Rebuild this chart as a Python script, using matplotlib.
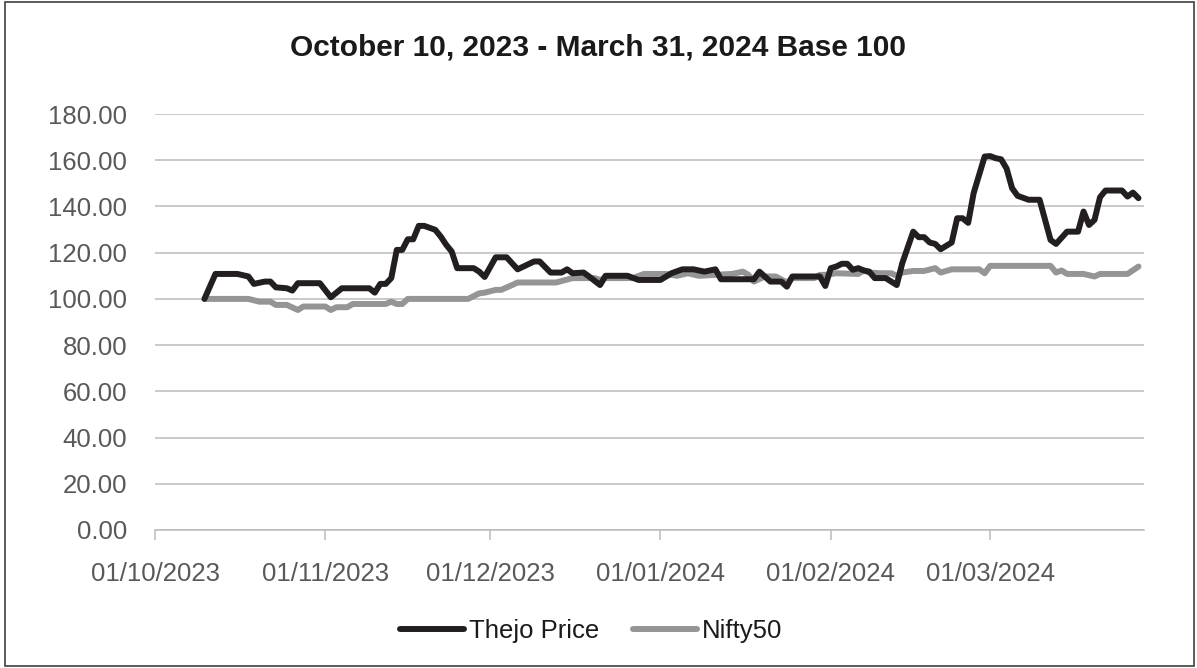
# Thejo Price vs Nifty50, Base 100 (10.10.2023 - 31.03.2024)

import pandas as pd
import matplotlib
matplotlib.use('Agg')
import matplotlib.pyplot as plt
import matplotlib.dates as mdates
from matplotlib.patches import Rectangle

plt.rcParams['font.family'] = ['Liberation Sans', 'DejaVu Sans']

# Werte (Eckpunkte der Linien)
thejo_dates = [
    '2023-10-10', '2023-10-12', '2023-10-16', '2023-10-18', '2023-10-19', '2023-10-21',
    '2023-10-22', '2023-10-23', '2023-10-25', '2023-10-26', '2023-10-27', '2023-10-31',
    '2023-11-02', '2023-11-04', '2023-11-09', '2023-11-10', '2023-11-11', '2023-11-12',
    '2023-11-13', '2023-11-14', '2023-11-15', '2023-11-16', '2023-11-17', '2023-11-18',
    '2023-11-19', '2023-11-21', '2023-11-22', '2023-11-23', '2023-11-24', '2023-11-25',
    '2023-11-28', '2023-11-29', '2023-11-30', '2023-12-02', '2023-12-04', '2023-12-06',
    '2023-12-09', '2023-12-10', '2023-12-12', '2023-12-14', '2023-12-15', '2023-12-16',
    '2023-12-18', '2023-12-19', '2023-12-21', '2023-12-22', '2023-12-26', '2023-12-28',
    '2024-01-01', '2024-01-03', '2024-01-05', '2024-01-07', '2024-01-09', '2024-01-11',
    '2024-01-12', '2024-01-18', '2024-01-19', '2024-01-21', '2024-01-23', '2024-01-24',
    '2024-01-25', '2024-01-30', '2024-01-31', '2024-02-01', '2024-02-02', '2024-02-03',
    '2024-02-04', '2024-02-05', '2024-02-06', '2024-02-07', '2024-02-08', '2024-02-09',
    '2024-02-11', '2024-02-13', '2024-02-14', '2024-02-16', '2024-02-17', '2024-02-18',
    '2024-02-19', '2024-02-20', '2024-02-21', '2024-02-23', '2024-02-24', '2024-02-25',
    '2024-02-26', '2024-02-27', '2024-02-28', '2024-02-29', '2024-03-01', '2024-03-02',
    '2024-03-03', '2024-03-04', '2024-03-05', '2024-03-06', '2024-03-08', '2024-03-10',
    '2024-03-11', '2024-03-12', '2024-03-13', '2024-03-15', '2024-03-17', '2024-03-18',
    '2024-03-19', '2024-03-20', '2024-03-21', '2024-03-22', '2024-03-25', '2024-03-26',
    '2024-03-27', '2024-03-28',
]
thejo_values = [
    100.0, 110.8, 110.8, 109.7, 106.5, 107.5,
    107.5, 105.0, 104.6, 103.6, 106.8, 106.8,
    100.7, 104.6, 104.6, 102.7, 106.5, 106.5,
    109.0, 121.2, 121.2, 125.8, 125.8, 131.6,
    131.6, 129.9, 127.0, 123.4, 120.5, 113.3,
    113.3, 111.8, 109.5, 118.0, 118.0, 112.8,
    116.2, 116.2, 111.4, 111.4, 112.8, 111.1,
    111.4, 109.7, 106.0, 110.0, 110.0, 108.2,
    108.2, 111.1, 112.8, 112.8, 111.8, 112.8,
    108.5, 108.5, 111.8, 107.5, 107.5, 105.3,
    109.7, 109.7, 105.6, 113.3, 114.0, 115.2,
    115.2, 112.6, 113.3, 112.3, 111.8, 109.0,
    109.0, 106.0, 115.4, 129.1, 126.7, 126.7,
    124.4, 123.8, 121.5, 124.4, 134.9, 134.9,
    132.9, 145.8, 153.7, 161.6, 161.8, 160.9,
    160.4, 156.4, 147.9, 144.6, 142.9, 142.9,
    134.2, 125.5, 123.8, 129.1, 129.1, 137.8,
    132.0, 134.2, 144.0, 146.9, 146.9, 144.3,
    146.0, 143.6,
]

nifty_dates = [
    '2023-10-10', '2023-10-18', '2023-10-20', '2023-10-22', '2023-10-23', '2023-10-25',
    '2023-10-27', '2023-10-28', '2023-11-01', '2023-11-02', '2023-11-03', '2023-11-05',
    '2023-11-06', '2023-11-12', '2023-11-13', '2023-11-14', '2023-11-15', '2023-11-16',
    '2023-11-27', '2023-11-29', '2023-11-30', '2023-12-02', '2023-12-03', '2023-12-05',
    '2023-12-06', '2023-12-13', '2023-12-16', '2023-12-20', '2023-12-21', '2023-12-22',
    '2023-12-27', '2023-12-29', '2024-01-02', '2024-01-04', '2024-01-06', '2024-01-08',
    '2024-01-14', '2024-01-16', '2024-01-17', '2024-01-18', '2024-01-20', '2024-01-22',
    '2024-01-24', '2024-01-25', '2024-01-29', '2024-01-30', '2024-01-31', '2024-02-02',
    '2024-02-06', '2024-02-07', '2024-02-08', '2024-02-10', '2024-02-12', '2024-02-13',
    '2024-02-14', '2024-02-16', '2024-02-18', '2024-02-20', '2024-02-21', '2024-02-23',
    '2024-02-28', '2024-02-29', '2024-03-01', '2024-03-12', '2024-03-13', '2024-03-14',
    '2024-03-15', '2024-03-18', '2024-03-20', '2024-03-21', '2024-03-26', '2024-03-28',
]
nifty_values = [
    100.0, 100.0, 98.8, 98.8, 97.4, 97.4,
    95.2, 96.7, 96.7, 95.2, 96.4, 96.4,
    97.8, 97.8, 98.8, 97.8, 97.8, 100.0,
    100.0, 102.4, 102.7, 103.9, 103.9, 106.0,
    107.1, 107.1, 109.0, 109.0, 108.2, 109.0,
    109.0, 110.8, 110.8, 110.0, 111.1, 110.0,
    110.8, 111.8, 110.4, 107.5, 109.7, 109.7,
    107.1, 109.0, 109.0, 110.4, 110.4, 111.1,
    110.8, 112.3, 111.4, 111.1, 111.1, 110.0,
    111.4, 112.1, 112.1, 113.3, 111.4, 112.8,
    112.8, 111.1, 114.3, 114.3, 111.4, 112.3,
    110.8, 110.8, 109.7, 110.8, 110.8, 114.0,
]

y_ticks = [0, 20, 40, 60, 80, 100, 120, 140, 160, 180]
month_ticks = ['2023-10-01', '2023-11-01', '2023-12-01', '2024-01-01', '2024-02-01', '2024-03-01']

fig = plt.figure(figsize=(11.97, 6.68), dpi=100)
ax = fig.add_axes([0.1295, 0.2066, 0.8262, 0.6227])

ax.plot(pd.to_datetime(thejo_dates), thejo_values, color='#231f20', lw=4.3,
        solid_joinstyle='round', solid_capstyle='round', label='Thejo Price', zorder=3)
ax.plot(pd.to_datetime(nifty_dates), nifty_values, color='#959595', lw=4.3,
        solid_joinstyle='round', solid_capstyle='round', label='Nifty50', zorder=2)

# Achsen
ax.set_ylim(0, 180)
ax.set_yticks(y_ticks)
ax.yaxis.set_major_formatter(plt.FuncFormatter(lambda v, p: f'{v:.2f}'))
ax.set_xlim(pd.Timestamp('2023-10-01'), pd.Timestamp('2024-03-29'))
ax.set_xticks(pd.to_datetime(month_ticks))
ax.xaxis.set_major_formatter(mdates.DateFormatter('%d/%m/%Y'))

ax.grid(axis='y', color='#bcbcbc', lw=1.1)
ax.set_axisbelow(True)
for s in ['left', 'right', 'top']:
    ax.spines[s].set_visible(False)
ax.spines['bottom'].set_color('#bcbcbc')
ax.spines['bottom'].set_linewidth(1.1)

ax.tick_params(axis='y', length=0, pad=20, labelsize=18.5, labelcolor='#595959')
ax.tick_params(axis='x', length=7, width=1.1, color='#bcbcbc', pad=16,
               labelsize=18.5, labelcolor='#595959')

# Titel
fig.text(0.5, 1 - 48 / 668, 'October 10, 2023 - March 31, 2024 Base 100',
         ha='center', va='center', fontsize=21.5, fontweight='bold', color='#1a1a1a')

# Legende unten
fig.legend(loc='center', bbox_to_anchor=(0.494, 1 - 631 / 668), ncol=2, frameon=False,
           fontsize=18.5, handlelength=2.5, handletextpad=0.2, columnspacing=1.3,
           labelcolor='#1a1a1a')

# Rahmen um das Diagramm
fig.patches.append(Rectangle((5 / 1197, 2 / 668), 1189 / 1197, 664 / 668,
                             transform=fig.transFigure, fill=False,
                             edgecolor='#404040', lw=1.2))

fig.savefig('out.png', dpi=100)
